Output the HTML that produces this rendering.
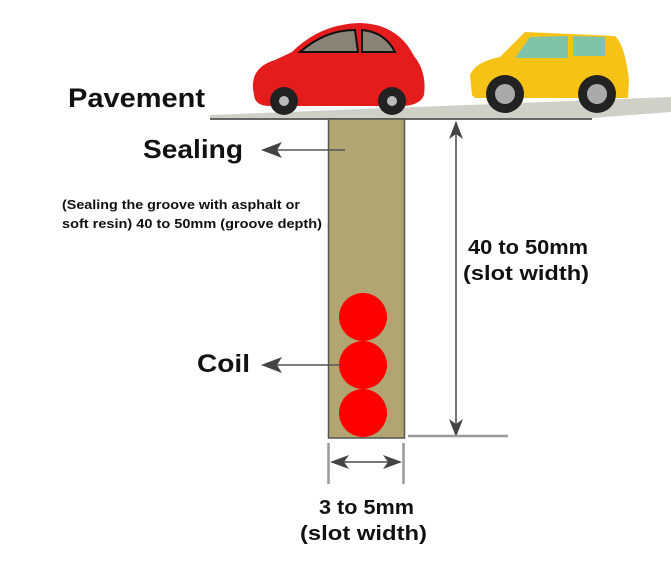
<!DOCTYPE html>
<html><head><meta charset="utf-8"><style>
html,body{margin:0;padding:0;background:#fff;}
svg{display:block;}
text{font-family:"Liberation Sans",sans-serif;font-weight:bold;fill:#111;}
</style></head><body>
<svg width="671" height="565" viewBox="0 0 671 565" xmlns="http://www.w3.org/2000/svg">
<!-- road -->
<polygon points="210,115 671,97 671,112 592,118 210,118" fill="#cfd1c9"/>
<line x1="210" y1="119" x2="592" y2="119" stroke="#666" stroke-width="2"/>
<!-- red car -->
<g>
<path d="M254,95 Q248,68 275,60 L292,52 Q320,24 360,23 Q398,24 414,56 Q427,72 424,95 Q420,106 400,106 L270,106 Q255,106 254,95 Z" fill="#e41c1c"/>
<path d="M300,52 Q325,30 355,30 L358,52 Z" fill="#8a8478" stroke="#111" stroke-width="2"/>
<path d="M362,30 Q385,32 395,52 L362,52 Z" fill="#8a8478" stroke="#111" stroke-width="2"/>
<circle cx="284" cy="101" r="14" fill="#222"/><circle cx="284" cy="101" r="5" fill="#bbb"/>
<circle cx="392" cy="101" r="14" fill="#222"/><circle cx="392" cy="101" r="5" fill="#bbb"/>
</g>
<!-- yellow car -->
<g>
<path d="M472,95 L470,75 Q475,62 500,57 L525,32 L615,36 Q625,45 629,80 L628,98 L475,98 Z" fill="#f6c215"/>
<path d="M530,37 L568,36 L568,58 L515,58 Z" fill="#7fc4a8"/>
<path d="M573,36 L605,37 L605,56 L573,56 Z" fill="#7fc4a8"/>
<circle cx="505" cy="94" r="19" fill="#222"/><circle cx="505" cy="94" r="10" fill="#aaa"/>
<circle cx="597" cy="94" r="19" fill="#222"/><circle cx="597" cy="94" r="10" fill="#aaa"/>
</g>
<!-- slot -->
<rect x="328.5" y="119" width="76" height="319" fill="#b1a572" stroke="#555" stroke-width="1.5"/>
<circle cx="363" cy="317" r="24" fill="#ff0000"/>
<circle cx="363" cy="365" r="24" fill="#ff0000"/>
<circle cx="363" cy="413" r="24" fill="#ff0000"/>
<!-- depth dimension -->
<line x1="456" y1="122" x2="456" y2="436" stroke="#777" stroke-width="2"/>
<path d="M456,121 L449,139 L456,134 L463,139 Z" fill="#444"/>
<path d="M456,437 L449,419 L456,424 L463,419 Z" fill="#444"/>
<line x1="408" y1="436" x2="508" y2="436" stroke="#999" stroke-width="2.5"/>
<!-- width dimension -->
<line x1="328.5" y1="443" x2="328.5" y2="484" stroke="#999" stroke-width="2.5"/>
<line x1="403.5" y1="443" x2="403.5" y2="484" stroke="#999" stroke-width="2.5"/>
<line x1="332" y1="462" x2="400" y2="462" stroke="#777" stroke-width="2"/>
<path d="M330,462 L349,455 L344,462 L349,469 Z" fill="#444"/>
<path d="M402,462 L383,455 L388,462 L383,469 Z" fill="#444"/>
<!-- leader arrows -->
<line x1="345" y1="150" x2="266" y2="150" stroke="#555" stroke-width="1.5"/>
<path d="M261,150 L282,142 L277,150 L282,158 Z" fill="#444"/>
<line x1="340" y1="365" x2="266" y2="365" stroke="#555" stroke-width="1.5"/>
<path d="M261,365 L282,357 L277,365 L282,373 Z" fill="#444"/>
<!-- text -->
<text x="68" y="107" font-size="26.5" textLength="137" lengthAdjust="spacingAndGlyphs">Pavement</text>
<text x="143" y="158" font-size="26" textLength="100" lengthAdjust="spacingAndGlyphs">Sealing</text>
<text x="62" y="209" font-size="12.5" textLength="238" lengthAdjust="spacingAndGlyphs">(Sealing the groove with asphalt or</text>
<text x="62" y="228" font-size="12.5" textLength="260" lengthAdjust="spacingAndGlyphs">soft resin) 40 to 50mm (groove depth)</text>
<text x="197" y="372" font-size="25" textLength="53" lengthAdjust="spacingAndGlyphs">Coil</text>
<text x="468" y="254" font-size="20" textLength="120" lengthAdjust="spacingAndGlyphs">40 to 50mm</text>
<text x="463" y="280" font-size="20" textLength="126" lengthAdjust="spacingAndGlyphs">(slot width)</text>
<text x="319" y="514" font-size="20" textLength="95" lengthAdjust="spacingAndGlyphs">3 to 5mm</text>
<text x="300" y="540" font-size="20.5" textLength="127" lengthAdjust="spacingAndGlyphs">(slot width)</text>
</svg>
</body></html>
